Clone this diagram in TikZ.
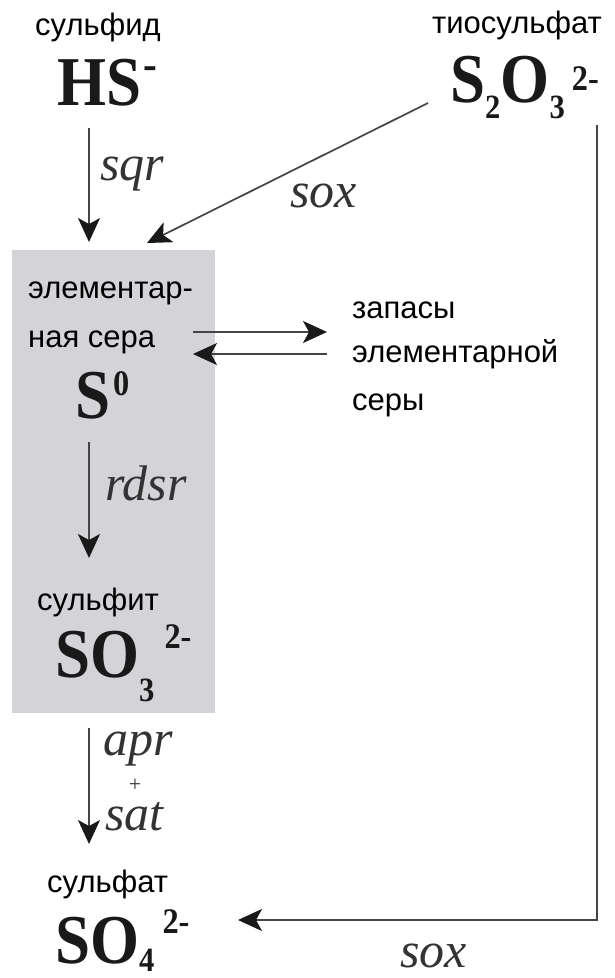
\documentclass[tikz,border=0pt]{standalone}
\usepackage{fontspec}
\usetikzlibrary{arrows.meta}
\newfontfamily\labf{Liberation Sans}
\newfontfamily\chemf{Liberation Serif}[FakeStretch=0.9]
\newfontfamily\enzf{Liberation Serif}
\definecolor{boxgray}{HTML}{D4D4D8}
\definecolor{linegray}{HTML}{454545}
\definecolor{enzgray}{HTML}{333333}
\newcommand{\chdn}[2]{\raisebox{-#1pt}[0pt][#1pt]{\fontsize{34pt}{34pt}\selectfont #2}}
\newcommand{\chup}[3]{\raisebox{#1pt}{\fontsize{#2pt}{#2pt}\selectfont #3}}
\tikzset{
  lab/.style={inner sep=0pt, anchor=base west, font=\labf\fontsize{31pt}{31pt}\selectfont},
  chem/.style={inner sep=0pt, anchor=base west, text=black!90, font=\chemf\bfseries\fontsize{70pt}{70pt}\selectfont},
  enz/.style={inner sep=0pt, anchor=base west, text=enzgray, text height=0.6em, text depth=0.2em, font=\enzf\itshape\fontsize{50pt}{50pt}\selectfont},
  conn/.style={draw=linegray, line width=1.7pt, -{Stealth[length=24pt,width=22pt,inset=6pt,color=black!90]}},
}
\begin{document}
\begin{tikzpicture}[x=1pt,y=-1pt]
\useasboundingbox (0,0) rectangle (615,978);
% grey box
\node[fill=boxgray, inner sep=0pt, minimum width=203pt, minimum height=463pt, anchor=north west] (box) at (12,250) {};
% labels
\node[lab] (lsulfid) at (35,35) {сульфид};
\node[chem] (hs) at (57,105) {HS\hspace{2pt}\chup{26}{46}{-}};
\node[lab] (ltio) at (432,33) {тиосульфат};
\node[chem] (s2o3) at (450,102) {S\chdn{16}{2}O\chdn{16}{3}\hspace{7pt}\chup{12}{36}{2-}};
\node[lab] (lel1) at (28,298) {элементар-};
\node[lab] (lel2) at (28,347) {ная сера};
\node[chem] (s0) at (75,418) {S\hspace{3pt}\chup{23}{36}{0}};
\node[lab] (lz1) at (352,318) {запасы};
\node[lab] (lz2) at (352,362) {элементарной};
\node[lab] (lz3) at (352,410) {серы};
\node[lab] (lsulfit) at (37,610) {сульфит};
\node[chem] (so3) at (55,677) {SO\chdn{24}{3}\hspace{10pt}\chup{29}{36}{2-}};
\node[lab] (lsulfat) at (47,892) {сульфат};
\node[chem] (so4) at (55,963) {SO\chdn{8}{4}\hspace{8pt}\chup{30}{36}{2-}};
% enzyme labels
\node[enz] (sqr) at (100,180) {sqr};
\node[enz] (sox1) at (290,207) {sox};
\node[enz] (rdsr) at (105,500) {rdsr};
\node[enz] (apr) at (103,755) {apr};
\node[inner sep=0pt, text=enzgray, font=\enzf\fontsize{22pt}{22pt}\selectfont] (plus) at (135,785) {+};
\node[enz] (sat) at (105,830) {sat};
\node[enz] (sox2) at (400,967) {sox};
% connector end points
\coordinate (a1) at (89,128);
\coordinate (a2) at (89,242);
\coordinate (d1) at (428,103);
\coordinate (d2) at (147,243);
\coordinate (r1) at (193,332);
\coordinate (r2) at (327,332);
\coordinate (b1) at (327,354);
\coordinate (b2) at (193,354);
\coordinate (c1) at (89,442);
\coordinate (c2) at (89,558);
\coordinate (e1) at (89,728);
\coordinate (e2) at (89,844);
\coordinate (f1) at (597,125);
\coordinate (f2) at (597,920);
\coordinate (f3) at (238,920);
% connectors
\draw[conn] (a1) -- (a2);
\draw[conn] (d1) -- (d2);
\draw[conn] (r1) -- (r2);
\draw[conn] (b1) -- (b2);
\draw[conn] (c1) -- (c2);
\draw[conn] (e1) -- (e2);
\draw[conn, line join=miter] (f1) -- (f2) -- (f3);
\end{tikzpicture}
\end{document}
